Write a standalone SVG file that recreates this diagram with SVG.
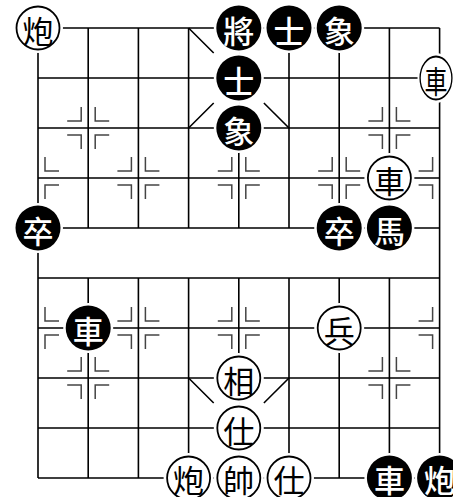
<svg xmlns="http://www.w3.org/2000/svg" xmlns:xlink="http://www.w3.org/1999/xlink" width="453" height="497" viewBox="0 0 453 497">
<style>
.grid{stroke:#000;stroke-width:1.6;fill:none}
.mk{stroke:#444;stroke-width:1.5;fill:none}
.halo{fill:#fff}
.bp{fill:#000}
.rp{fill:#fff;stroke:#000;stroke-width:1.8}
.bt,.rt{font-family:"Noto Sans CJK TC","Noto Sans CJK SC",sans-serif;font-size:31px;text-anchor:middle;dominant-baseline:central}
.bt{fill:#fff;font-weight:500}
.rt{fill:#000}
</style>
<defs>
<path id="mr" d="M7,-21V-7H21M7,21V7H21"/>
<path id="ml" d="M-7,-21V-7H-21M-7,21V7H-21"/>
</defs>
<rect width="453" height="497" fill="#fff"/>
<g id="connectors">
<g class="grid">
<path d="M38,28H439.6M38,78H439.6M38,128H439.6M38,178H439.6M38,228H439.6M38,278H439.6M38,328H439.6M38,378H439.6M38,428H439.6M38,478H439.6"/>
<path d="M38,28V478M439.6,28V478"/>
<path d="M88.2,28V228M138.4,28V228M188.6,28V228M238.8,28V228M289,28V228M339.2,28V228M389.4,28V228"/>
<path d="M88.2,278V478M138.4,278V478M188.6,278V478M238.8,278V478M289,278V478M339.2,278V478M389.4,278V478"/>
<path d="M188.6,28L213.7,53M213.7,103L188.6,128M263.9,103L289,128M188.6,378L213.7,403M289,378L263.9,403"/>
</g>
<g class="mk">
<use href="#ml" x="88.2" y="128"/><use href="#mr" x="88.2" y="128"/>
<use href="#ml" x="389.4" y="128"/><use href="#mr" x="389.4" y="128"/>
<use href="#ml" x="88.2" y="378"/><use href="#mr" x="88.2" y="378"/>
<use href="#ml" x="389.4" y="378"/><use href="#mr" x="389.4" y="378"/>
<use href="#mr" x="38" y="178"/>
<use href="#ml" x="138.4" y="178"/><use href="#mr" x="138.4" y="178"/>
<use href="#ml" x="238.8" y="178"/><use href="#mr" x="238.8" y="178"/>
<use href="#ml" x="339.2" y="178"/><use href="#mr" x="339.2" y="178"/>
<use href="#ml" x="439.6" y="178"/>
<use href="#mr" x="38" y="328"/>
<use href="#ml" x="138.4" y="328"/><use href="#mr" x="138.4" y="328"/>
<use href="#ml" x="238.8" y="328"/><use href="#mr" x="238.8" y="328"/>
<use href="#ml" x="339.2" y="328"/><use href="#mr" x="339.2" y="328"/>
<use href="#ml" x="439.6" y="328"/>
</g>
</g>
<g id="b-jiang" transform="translate(238.8,28)"><circle class="halo" r="25"/><circle class="bp" r="22.5"/><text class="bt" y="1">將</text></g>
<g id="b-shi1" transform="translate(289,28)"><circle class="halo" r="25"/><circle class="bp" r="22.5"/><text class="bt" y="1">士</text></g>
<g id="b-xiang1" transform="translate(339.2,28)"><circle class="halo" r="25"/><circle class="bp" r="22.5"/><text class="bt" y="1">象</text></g>
<g id="b-shi2" transform="translate(238.8,78)"><circle class="halo" r="25"/><circle class="bp" r="22.5"/><text class="bt" y="1">士</text></g>
<g id="b-xiang2" transform="translate(238.8,128)"><circle class="halo" r="25"/><circle class="bp" r="22.5"/><text class="bt" y="1">象</text></g>
<g id="b-zu1" transform="translate(38,228)"><circle class="halo" r="25"/><circle class="bp" r="22.5"/><text class="bt" y="1">卒</text></g>
<g id="b-zu2" transform="translate(339.2,228)"><circle class="halo" r="25"/><circle class="bp" r="22.5"/><text class="bt" y="1">卒</text></g>
<g id="b-ma" transform="translate(389.4,228)"><circle class="halo" r="25"/><circle class="bp" r="22.5"/><text class="bt" y="1">馬</text></g>
<g id="b-che1" transform="translate(88.2,328)"><circle class="halo" r="25"/><circle class="bp" r="22.5"/><text class="bt" y="1">車</text></g>
<g id="b-che2" transform="translate(389.4,478)"><circle class="halo" r="25"/><circle class="bp" r="22.5"/><text class="bt" y="0">車</text></g>
<g id="b-pao" transform="translate(439.6,478)"><circle class="halo" r="25"/><circle class="bp" r="22.5"/><text class="bt" y="0">炮</text></g>
<g id="r-pao1" transform="translate(38,28)"><circle class="halo" r="25"/><circle class="rp" r="21.5"/><text class="rt" y="1">炮</text></g>
<g id="r-che1" transform="translate(436,78) scale(0.74,1)"><circle class="halo" r="25"/><circle class="rp" r="21.5"/><text class="rt" y="1">車</text></g>
<g id="r-che2" transform="translate(389.4,178)"><circle class="halo" r="25"/><circle class="rp" r="21.5"/><text class="rt" y="1">車</text></g>
<g id="r-bing" transform="translate(339.2,328)"><circle class="halo" r="25"/><circle class="rp" r="21.5"/><text class="rt" y="1">兵</text></g>
<g id="r-xiang" transform="translate(238.8,378)"><circle class="halo" r="25"/><circle class="rp" r="21.5"/><text class="rt" y="1">相</text></g>
<g id="r-shi1" transform="translate(238.8,428)"><circle class="halo" r="25"/><circle class="rp" r="21.5"/><text class="rt" y="1">仕</text></g>
<g id="r-pao2" transform="translate(188.6,478)"><circle class="halo" r="25"/><circle class="rp" r="21.5"/><text class="rt" y="0">炮</text></g>
<g id="r-shuai" transform="translate(238.8,478)"><circle class="halo" r="25"/><circle class="rp" r="21.5"/><text class="rt" y="0">帥</text></g>
<g id="r-shi2" transform="translate(289,478)"><circle class="halo" r="25"/><circle class="rp" r="21.5"/><text class="rt" y="0">仕</text></g>
</svg>
